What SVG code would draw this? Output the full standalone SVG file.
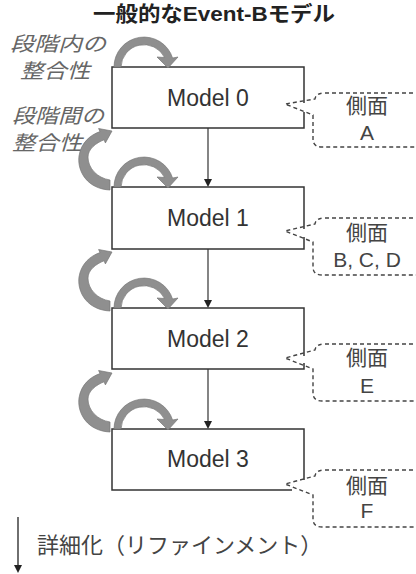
<svg xmlns="http://www.w3.org/2000/svg" width="416" height="574" viewBox="0 0 416 574">
<defs>
<style>
.box{fill:none;stroke:#333;stroke-width:1.5}
.lbl{font-family:"Liberation Sans","Noto Sans CJK JP",sans-serif;font-size:23px;fill:#333;text-anchor:middle}
.co{fill:none;stroke:#444;stroke-width:1.4;stroke-dasharray:4 3}
.cot{font-family:"Liberation Sans","Noto Sans CJK JP",sans-serif;font-size:21px;fill:#444;text-anchor:middle}
.side{font-family:"Noto Sans CJK JP",sans-serif;font-size:20px;fill:#666;font-style:italic}
.g{fill:#8f8f8f;stroke:#777;stroke-width:0.7}
.conn{stroke:#333;stroke-width:1.2;fill:none}
.head{fill:#222}
</style>
</defs>
<rect width="416" height="574" fill="#fff"/>
<text x="93" y="21" textLength="242" lengthAdjust="spacingAndGlyphs" style="font-family:'Liberation Sans','Noto Sans CJK JP',sans-serif;font-size:21px;font-weight:bold;fill:#222">一般的なEvent-Bモデル</text>

<g id="label-intra">
<text class="side" x="10" y="51" textLength="96" lengthAdjust="spacingAndGlyphs">段階内の</text>
<text class="side" x="20" y="78" textLength="70" lengthAdjust="spacingAndGlyphs">整合性</text>
</g>
<g id="label-inter">
<text class="side" x="12" y="123" textLength="92" lengthAdjust="spacingAndGlyphs">段階間の</text>
<text class="side" x="12" y="150" textLength="70" lengthAdjust="spacingAndGlyphs">整合性</text>
</g>

<g id="connectors">
<line class="conn" x1="208" y1="128" x2="208" y2="180"/>
<polygon class="head" points="204,179 212,179 208,187"/>
<line class="conn" x1="208" y1="249" x2="208" y2="301"/>
<polygon class="head" points="204,300 212,300 208,308"/>
<line class="conn" x1="208" y1="369" x2="208" y2="422"/>
<polygon class="head" points="204,421 212,421 208,429"/>
</g>

<g id="model0">
<path class="box" d="M304,103 V67 H112 V128 H304 V112"/>
<text class="lbl" x="208" y="106">Model 0</text>
<path class="g" d="M114,67 A30,30 0 0 1 172.6,58 L178,57 L168,68 L157,57 L164.6,57.5 A23,23 0 0 0 121,67 Z"/>
</g>
<g id="model1">
<path class="box" d="M304,229 V187 H112 V249 H304 V237"/>
<text class="lbl" x="208" y="226">Model 1</text>
<path class="g" d="M114,187 A30,30 0 0 1 172.6,178 L178,177 L168,188 L157,177 L164.6,177.5 A23,23 0 0 0 121,187 Z"/>
<path class="g" d="M110,190 C88,189 77,172 79,156 C81,143 90,135 100,131.6 L98.6,128.5 L112,131 L105.4,142.9 L104,139.8 C96,143 88,149 88,157 C88,168 97,178 110,180 Z"/>
</g>
<g id="model2">
<path class="box" d="M304,356 V308 H112 V369 H304 V363"/>
<text class="lbl" x="208" y="347">Model 2</text>
<path class="g" d="M114,308 A30,30 0 0 1 172.6,299 L178,298 L168,309 L157,298 L164.6,298.5 A23,23 0 0 0 121,308 Z"/>
<path class="g" d="M110,311 C88,310 77,293 79,277 C81,264 90,256 100,252.6 L98.6,249.5 L112,252 L105.4,263.9 L104,260.8 C96,264 88,270 88,278 C88,289 97,299 110,301 Z"/>
</g>
<g id="model3">
<path class="box" d="M304,480 V429 H112 V490 H292"/>
<text class="lbl" x="208" y="467">Model 3</text>
<path class="g" d="M114,429 A30,30 0 0 1 172.6,420 L178,419 L168,430 L157,419 L164.6,419.5 A23,23 0 0 0 121,429 Z"/>
<path class="g" d="M110,432 C88,431 77,414 79,398 C81,385 90,377 100,373.6 L98.6,370.5 L112,373 L105.4,384.9 L104,381.8 C96,385 88,391 88,399 C88,410 97,420 110,422 Z"/>
</g>

<g id="calloutA">
<path class="co" d="M420,93 H325 Q316,93 315,99 L285,104 L313,115 V139 Q313,147 322,147 H420"/>
<text class="cot" x="367" y="113">側面</text>
<text class="cot" x="367" y="140">A</text>
</g>
<g id="calloutBCD">
<path class="co" d="M420,218 H325 Q316,218 315,224 L285,231 L313,242 V267 Q313,275 322,275 H420"/>
<text class="cot" x="367" y="240">側面</text>
<text class="cot" x="367" y="267">B, C, D</text>
</g>
<g id="calloutE">
<path class="co" d="M420,344 H325 Q316,344 315,350 L285,358 L313,369 V393 Q313,401 322,401 H420"/>
<text class="cot" x="367" y="365">側面</text>
<text class="cot" x="367" y="393">E</text>
</g>
<g id="calloutF">
<path class="co" d="M420,470 H325 Q316,470 315,476 L285,484 L313,495 V519 Q313,527 322,527 H420"/>
<text class="cot" x="367" y="493">側面</text>
<text class="cot" x="367" y="518">F</text>
</g>

<g id="refinement">
<line x1="18" y1="517" x2="18" y2="566" stroke="#222" stroke-width="1.3"/>
<polygon class="head" points="14,565 22,565 18,573"/>
<text x="37" y="553" style="font-family:'Noto Sans CJK JP',sans-serif;font-size:22px;fill:#444">詳細化（リファインメント）</text>
</g>
</svg>
